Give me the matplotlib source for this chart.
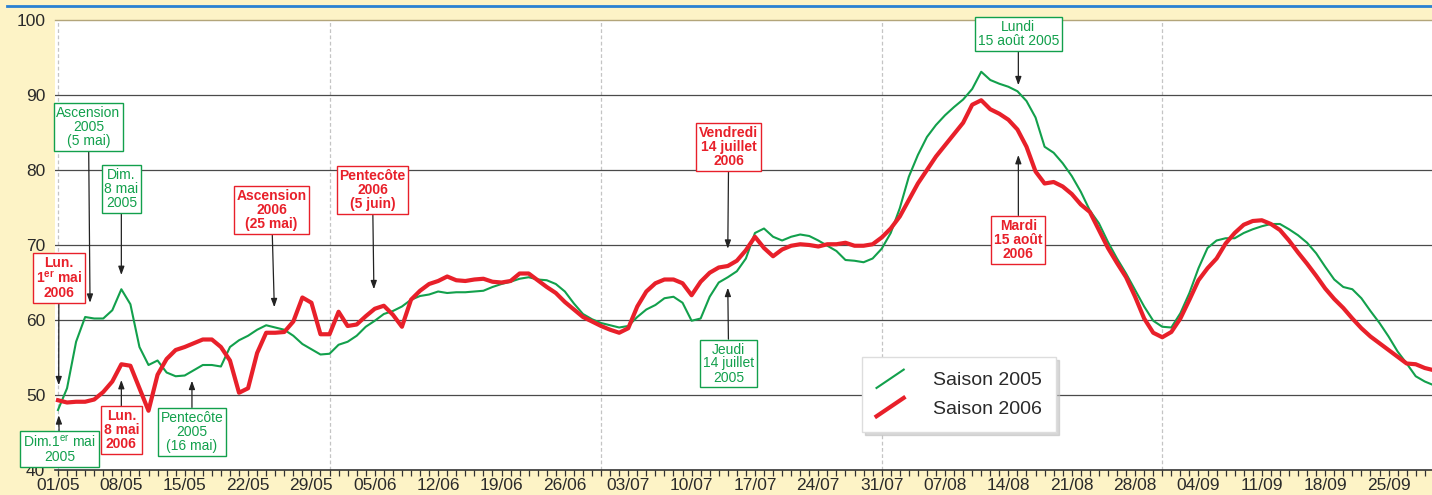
import matplotlib
matplotlib.use('Agg')
import matplotlib.pyplot as plt
from matplotlib import font_manager
from matplotlib.lines import Line2D
from matplotlib.legend_handler import HandlerBase
import numpy as np

# police etroite si disponible
noms = {f.name for f in font_manager.fontManager.ttflist}
narrow = 'Liberation Sans Narrow' if 'Liberation Sans Narrow' in noms else 'Liberation Sans'
plt.rcParams['font.family'] = [narrow, 'DejaVu Sans']
plt.rcParams['mathtext.fontset'] = 'custom'
plt.rcParams['mathtext.rm'] = narrow
plt.rcParams['mathtext.bf'] = narrow + ':bold'

# donnees (jour 0 = 1er mai)
jours = list(range(153))
saison_2005 = [48.0, 50.9, 57.1, 60.4, 60.2, 60.2, 61.3, 64.1, 62.1, 56.4,
               54.0, 54.6, 53.0, 52.5, 52.6, 53.3, 54.0, 54.0, 53.8, 56.4,
               57.3, 57.9, 58.7, 59.3, 59.0, 58.7, 57.9, 56.8, 56.1, 55.4,
               55.5, 56.7, 57.1, 57.9, 59.1, 59.9, 60.8, 61.2, 61.8, 62.7,
               63.2, 63.4, 63.8, 63.6, 63.7, 63.7, 63.8, 63.9, 64.4, 64.8,
               65.1, 65.5, 65.7, 65.4, 65.3, 64.8, 63.8, 62.2, 60.8, 60.1,
               59.6, 59.3, 59.0, 59.2, 60.4, 61.4, 62.0, 62.9, 63.1, 62.3,
               59.9, 60.2, 63.1, 65.0, 65.7, 66.5, 68.2, 71.6, 72.2, 71.1,
               70.6, 71.1, 71.4, 71.2, 70.6, 69.9, 69.2, 68.0, 67.9, 67.7,
               68.2, 69.5, 71.6, 74.9, 79.1, 82.0, 84.4, 86.0, 87.3, 88.4,
               89.4, 90.8, 93.1, 92.0, 91.5, 91.1, 90.5, 89.2, 87.0, 83.1,
               82.3, 80.9, 79.2, 77.1, 74.6, 72.9, 70.4, 68.2, 66.2, 64.0,
               61.8, 59.9, 59.1, 59.0, 60.9, 63.6, 66.9, 69.6, 70.6, 70.9,
               70.9, 71.6, 72.1, 72.5, 72.8, 72.8, 72.1, 71.3, 70.3, 68.9,
               67.1, 65.4, 64.4, 64.1, 62.9, 61.2, 59.6, 57.8, 55.8, 54.2,
               52.5, 51.8, 51.3]
saison_2006 = [49.3, 49.0, 49.1, 49.1, 49.4, 50.4, 51.8, 54.1, 53.9, 50.9,
               47.9, 52.7, 54.8, 56.0, 56.4, 56.9, 57.4, 57.4, 56.4, 54.6,
               50.3, 50.9, 55.6, 58.3, 58.3, 58.4, 59.8, 63.0, 62.3, 58.1,
               58.1, 61.1, 59.2, 59.4, 60.5, 61.5, 61.9, 60.7, 59.1, 62.7,
               63.9, 64.8, 65.2, 65.8, 65.3, 65.2, 65.4, 65.5, 65.1, 65.0,
               65.2, 66.2, 66.2, 65.3, 64.4, 63.6, 62.4, 61.4, 60.4, 59.8,
               59.2, 58.7, 58.3, 58.9, 61.8, 63.8, 64.9, 65.4, 65.4, 64.9,
               63.3, 65.1, 66.3, 67.0, 67.2, 67.9, 69.3, 71.1, 69.6, 68.5,
               69.4, 69.9, 70.1, 70.0, 69.8, 70.1, 70.1, 70.3, 69.9, 69.9,
               70.1, 71.0, 72.2, 73.8, 76.0, 78.2, 80.0, 81.8, 83.3, 84.8,
               86.3, 88.7, 89.3, 88.1, 87.5, 86.7, 85.4, 83.1, 79.8, 78.2,
               78.4, 77.8, 76.8, 75.4, 74.4, 72.0, 69.6, 67.6, 65.7, 63.1,
               60.2, 58.3, 57.7, 58.4, 60.2, 62.7, 65.3, 66.9, 68.2, 70.2,
               71.6, 72.7, 73.2, 73.3, 72.8, 72.0, 70.6, 69.0, 67.5, 65.9,
               64.2, 62.8, 61.6, 60.2, 58.9, 57.8, 56.9, 56.0, 55.1, 54.2,
               54.1, 53.6, 53.3]
etiquettes = ['01/05', '08/05', '15/05', '22/05', '29/05', '05/06', '12/06',
              '19/06', '26/06', '03/07', '10/07', '17/07', '24/07', '31/07',
              '07/08', '14/08', '21/08', '28/08', '04/09', '11/09', '18/09',
              '25/09']
fins_de_mois = [0, 30, 60, 91, 122]

vert = '#12a04c'
rouge = '#e8202a'
fond = '#fdf3c6'

fig = plt.figure(figsize=(14.32, 4.95), dpi=100, facecolor=fond)
ax = fig.add_axes([55/1432, 25/495, 1377/1432, 450/495])
ax.set_facecolor('white')

ax.set_xlim(-0.33, 151.8)
ax.set_ylim(40, 100)

for j in fins_de_mois:
    ax.axvline(j, color='#c4c4c4', lw=0.9, ls=(0, (3, 2)), zorder=1)
for v in [50, 60, 70, 80, 90]:
    ax.axhline(v, color='#4a4a4a', lw=0.9, zorder=1)

ax.plot(jours, saison_2005, color=vert, lw=1.5, zorder=3, label='Saison 2005')
ax.plot(jours, saison_2006, color=rouge, lw=3.0, zorder=4, label='Saison 2006')

ax.set_xticks(np.arange(0, 148, 7))
ax.set_xticklabels(etiquettes)
ax.set_xticks(np.arange(0, 152, 1), minor=True)
ax.tick_params(axis='x', which='both', length=4, width=0.9, color='#333333',
               labelsize=12.5, labelcolor='#2a2a2a', pad=2)
ax.set_yticks([40, 50, 60, 70, 80, 90, 100])
ax.tick_params(axis='y', length=0, labelsize=12.5, labelcolor='#2a2a2a', pad=7)

ax.spines['left'].set_visible(False)
ax.spines['right'].set_visible(False)
ax.spines['top'].set_color('#b3a57a')
ax.spines['top'].set_linewidth(1.0)
ax.spines['bottom'].set_color('#333333')
ax.spines['bottom'].set_linewidth(1.2)

# ligne bleue du titre
fig.add_artist(Line2D([7/1432, 1], [1 - 6/495, 1 - 6/495], color='#2a80d2', lw=2))


def note(texte, tx, ty, px, py, couleur, gras):
    ax.annotate(texte, xy=(px, py), xytext=(tx, ty), ha='center', va='center',
                fontsize=10, color=couleur, linespacing=1.0,
                fontweight='bold' if gras else 'normal',
                bbox=dict(boxstyle='square,pad=0.2', fc='white', ec=couleur, lw=1.0),
                arrowprops=dict(arrowstyle='-|>,head_length=0.5,head_width=0.18',
                                color='#222222', lw=0.9, shrinkA=0, shrinkB=0),
                zorder=6, annotation_clip=False)


note('Lun.\n$\\mathbf{1^{er}}$ mai\n2006', 0.1, 65.6, 0.08, 51.3, rouge, True)
note('Dim.1$^{\\rm er}$ mai\n2005', 0.17, 42.8, 0.08, 47.3, vert, False)
note('Ascension\n2005\n(5 mai)', 3.37, 85.7, 3.54, 62.3, vert, False)
note('Dim.\n8 mai\n2005', 7.0, 77.5, 7.0, 66.0, vert, False)
note('Lun.\n8 mai\n2006', 7.0, 45.3, 7.0, 52.0, rouge, True)
note('Pentecôte\n2005\n(16 mai)', 14.8, 45.1, 14.8, 51.9, vert, False)
note('Ascension\n2006\n(25 mai)', 23.6, 74.7, 23.9, 61.7, rouge, True)
note('Pentecôte\n2006\n(5 juin)', 34.75, 77.3, 34.9, 64.1, rouge, True)
note('Vendredi\n14 juillet\n2006', 74.1, 83.1, 74.0, 69.5, rouge, True)
note('Jeudi\n14 juillet\n2005', 74.1, 54.2, 74.0, 64.3, vert, False)
note('Lundi\n15 août 2005', 106.1, 98.1, 106.1, 91.3, vert, False)
note('Mardi\n15 août\n2006', 106.1, 70.7, 106.1, 82.0, rouge, True)


class Diagonale(HandlerBase):
    def create_artists(self, legend, orig_handle, xdescent, ydescent,
                       width, height, fontsize, trans):
        ln = Line2D([-xdescent, -xdescent + width],
                    [-ydescent - 0.2 * height, -ydescent + 1.15 * height],
                    color=orig_handle.get_color(), lw=orig_handle.get_linewidth(),
                    transform=trans)
        return [ln]


h, l = ax.get_legend_handles_labels()
leg = ax.legend(h, l, loc='upper left', bbox_to_anchor=(0.586, 0.251),
                borderaxespad=0, handlelength=1.4, handletextpad=1.5,
                labelspacing=0.55, borderpad=0.75, fancybox=False, framealpha=1,
                edgecolor='#dddddd', shadow={'color': '0.75', 'alpha': 0.6},
                prop={'family': ['Liberation Sans', 'DejaVu Sans'], 'size': 14},
                handler_map={Line2D: Diagonale()})
leg.set_zorder(7)
for t in leg.get_texts():
    t.set_color('#2a2a2a')

fig.savefig('out.png', dpi=100, facecolor=fond)
